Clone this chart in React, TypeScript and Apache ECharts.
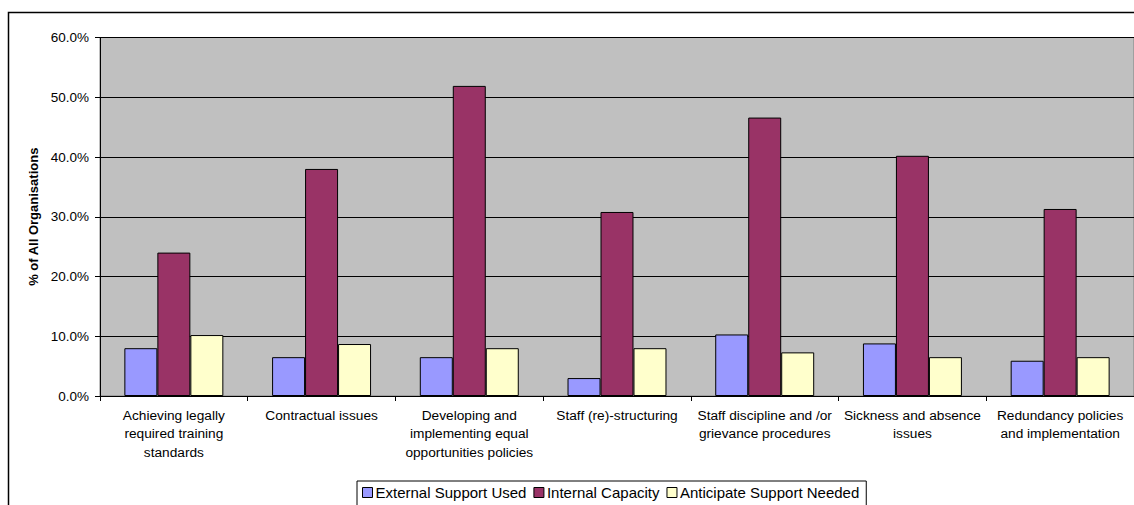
import React, { useEffect, useRef } from "react";
import * as echarts from "echarts";

const categories = [
  "Achieving legally\nrequired training\nstandards",
  "Contractual issues",
  "Developing and\nimplementing equal\nopportunities policies",
  "Staff (re)-structuring",
  "Staff discipline and /or\ngrievance procedures",
  "Sickness and absence\nissues",
  "Redundancy policies\nand implementation",
];
const externalSupportUsed = [8.0, 6.5, 6.5, 3.0, 10.3, 8.8, 5.9];
const internalCapacity = [24.0, 38.0, 51.9, 30.8, 46.6, 40.2, 31.3];
const anticipateSupportNeeded = [10.2, 8.7, 8.0, 8.0, 7.3, 6.5, 6.5];
const seriesNames = ["External Support Used", "Internal Capacity", "Anticipate Support Needed"];
const seriesColors = ["#9999FF", "#993366", "#FFFFCC"];
const yAxisTitle = "% of All Organisations";

const FONT = "'Liberation Sans', Arial, sans-serif";

export default function App() {
  const ref = useRef<HTMLDivElement>(null);
  useEffect(() => {
    if (!ref.current) return;
    const chart = echarts.init(ref.current, undefined, { renderer: "svg" });
    const values = [externalSupportUsed, internalCapacity, anticipateSupportNeeded];
    chart.setOption({
      animation: false,
      backgroundColor: "#ffffff",
      textStyle: { fontFamily: FONT, color: "#000" },
      grid: {
        left: 100,
        right: -3,
        top: 37.5,
        bottom: 109,
        show: true,
        backgroundColor: "#C0C0C0",
        borderColor: "#808080",
        borderWidth: 1,
      },
      legend: {
        left: 357,
        top: 481,
        orient: "horizontal",
        padding: [4, 7, 12, 5],
        itemGap: 7,
        itemWidth: 10,
        itemHeight: 10,
        icon: "rect",
        borderColor: "#000",
        borderWidth: 1,
        textStyle: { fontFamily: FONT, fontSize: 15, color: "#000", padding: [0, 0, 0, -2] },
        itemStyle: { borderColor: "#000", borderWidth: 1 },
        data: seriesNames,
      },
      xAxis: {
        type: "category",
        data: categories,
        axisLine: { show: true, lineStyle: { color: "#000", width: 1 } },
        axisTick: { show: true, length: 5, lineStyle: { color: "#000" } },
        axisLabel: {
          interval: 0,
          margin: 10,
          fontFamily: FONT,
          fontSize: 13.7,
          lineHeight: 18.5,
          color: "#000",
        },
      },
      yAxis: {
        type: "value",
        min: 0,
        max: 60,
        interval: 10,
        name: yAxisTitle,
        nameLocation: "middle",
        nameRotate: 90,
        nameGap: 60,
        nameTextStyle: { fontFamily: FONT, fontSize: 13, fontWeight: "bold", color: "#000" },
        axisLine: { show: true, lineStyle: { color: "#000", width: 1 } },
        axisTick: { show: true, length: 5, lineStyle: { color: "#000" } },
        axisLabel: {
          margin: 11,
          fontFamily: FONT,
          fontSize: 13.5,
          color: "#000",
          formatter: (v: number) => v.toFixed(1) + "%",
        },
        splitLine: { show: true, lineStyle: { color: "#000", width: 1 } },
      },
      series: seriesNames.map((name, i) => ({
        name,
        type: "bar",
        data: values[i],
        barGap: "0%",
        barCategoryGap: "33%",
        itemStyle: { color: seriesColors[i], borderColor: "#000", borderWidth: 1 },
      })),
      graphic: [
        {
          type: "rect",
          shape: { x: 8.5, y: 12.5, width: 1300, height: 700 },
          style: { fill: "none", stroke: "#000", lineWidth: 1.5 },
          silent: true,
          z: 100,
        },
      ],
    });
    return () => chart.dispose();
  }, []);
  return (
    <div
      ref={ref}
      style={{ position: "fixed", left: 0, top: 0, width: 1134, height: 505 }}
    />
  );
}
